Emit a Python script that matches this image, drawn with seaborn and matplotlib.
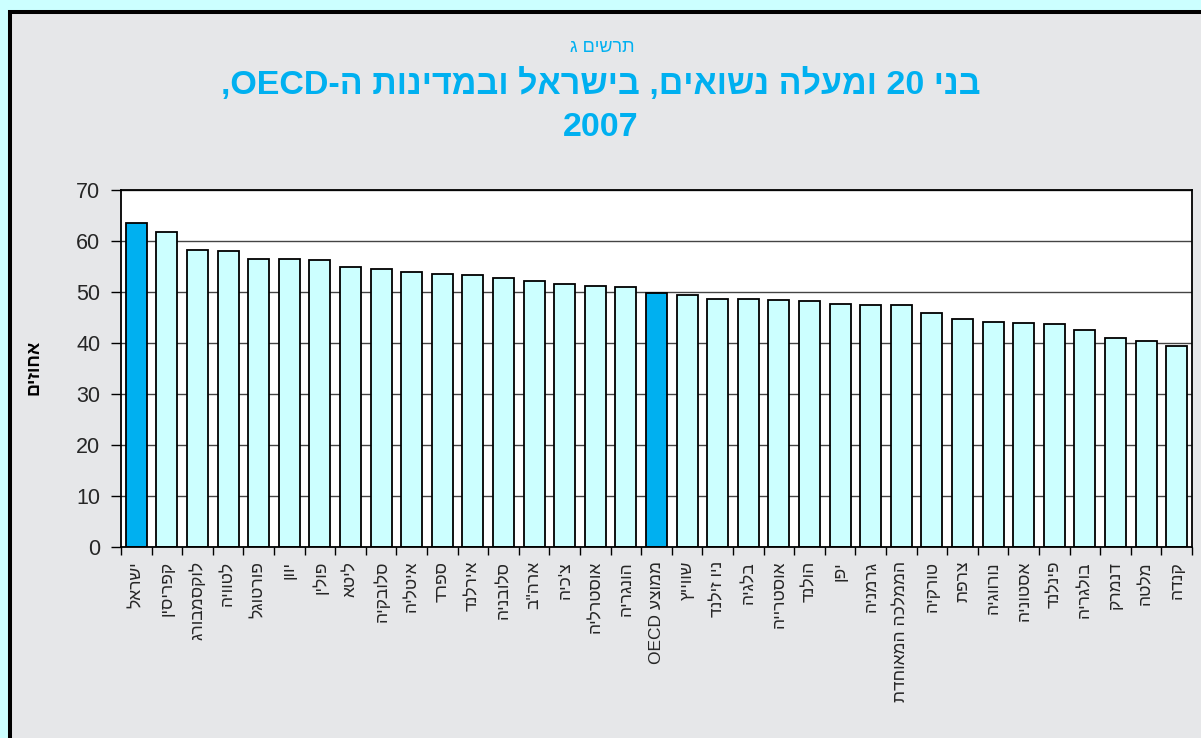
import re
import numpy as np
import pandas as pd
import matplotlib
matplotlib.use("Agg")
import matplotlib.pyplot as plt
from matplotlib.patches import Rectangle
import seaborn as sns

# ---------------- DATA ----------------

countries = [
    "ישראל", "קפריסין", "לוקסמבורג", "לטוויה", "פורטוגל", "יוון", "פולין",
    "ליטא", "סלובקיה", "איטליה", "ספרד", "אירלנד", "סלובניה", 'ארה"ב',
    "צ'כיה", "אוסטרליה", "הונגריה", "ממוצע OECD", "שווייץ", "ניו זילנד",
    "בלגיה", "אוסטרייה", "הולנד", "יפן", "גרמניה", "הממלכה המאוחדת",
    "טורקיה", "צרפת", "נורווגיה", "אסטוניה", "פינלנד", "בולגריה", "דנמרק",
    "מלטה", "קנדה",
]
married_pct = [
    63.6, 61.8, 58.2, 58.0, 56.5, 56.4, 56.3,
    55.0, 54.5, 53.9, 53.5, 53.4, 52.7, 52.2,
    51.6, 51.2, 50.9, 49.9, 49.4, 48.7,
    48.6, 48.4, 48.2, 47.6, 47.5, 47.4,
    45.8, 44.7, 44.2, 44.0, 43.7, 42.5, 40.9,
    40.3, 39.4,
]
highlight = ["ישראל", "ממוצע OECD"]
y_ticks = [0, 10, 20, 30, 40, 50, 60, 70]

chart_no = "תרשים ג"
title_line1 = "בני 20 ומעלה נשואים, בישראל ובמדינות ה-OECD,"
title_line2 = "2007"
y_title = "אחוזים"


# matplotlib has no bidi support: put the RTL text in visual order
def vis(s):
    return "".join(re.findall(r"[A-Za-z0-9]+|.", s)[::-1])


# ---------------- STYLE ----------------

sns.set_style("white")
plt.rcParams["font.family"] = ["Liberation Sans", "DejaVu Sans"]

LIGHT = "#CCFFFF"
DARK = "#00B0F0"
GRAY_BG = "#E6E7E9"

df = pd.DataFrame({"label": [vis(c) for c in countries], "value": married_pct})
palette = {vis(c): (DARK if c in highlight else LIGHT) for c in countries}

# ---------------- FIGURE ----------------

fig = plt.figure(figsize=(12.01, 7.38), dpi=100)
fig.patch.set_facecolor(LIGHT)
fig.add_artist(Rectangle((10 / 1201, -0.1), 1.2, 1.1 - 12 / 738,
                         transform=fig.transFigure, facecolor=GRAY_BG,
                         edgecolor="black", lw=2.9, zorder=-1))

ax = fig.add_axes([121 / 1201, 1 - 547 / 738, 1071 / 1201, 357 / 738])
ax.set_facecolor("white")

sns.barplot(data=df, x="label", y="value", hue="label", palette=palette,
            legend=False, width=0.68, saturation=1, edgecolor="black",
            linewidth=1.3, ax=ax)

n = len(countries)
ax.set_xlim(-0.5, n - 0.5)
ax.set_ylim(0, 70)
ax.set_yticks(y_ticks)
ax.yaxis.grid(True, color="#444444", lw=1)
ax.set_axisbelow(True)

ax.set_xticks(range(n))
ax.set_xticklabels(df["label"], rotation=90, fontsize=12.5)
ax.set_xticks(np.arange(-0.5, n), minor=True)
ax.tick_params(axis="x", which="major", length=0, pad=10)
ax.tick_params(axis="x", which="minor", length=6, width=1, color="black",
               direction="out", bottom=True)
ax.tick_params(axis="y", length=7, width=1, color="black", direction="out",
               left=True, pad=8, labelsize=15.5)
ax.set_xlabel("")
ax.set_ylabel("")
for sp in ax.spines.values():
    sp.set_color("black")
    sp.set_linewidth(1.3)

# ---------------- TEXTS ----------------

fig.text(602 / 1201, 1 - 47 / 738, vis(chart_no), ha="center", va="center",
         fontsize=13, color=DARK)
fig.text(601 / 1201, 1 - 85 / 738, vis(title_line1), ha="center",
         va="center", fontsize=24.5, fontweight="bold", color=DARK)
fig.text(601 / 1201, 1 - 127 / 738, title_line2, ha="center", va="center",
         fontsize=24.5, fontweight="bold", color=DARK)
fig.text(34 / 1201, 1 - 367 / 738, vis(y_title), ha="center", va="center",
         rotation=90, fontsize=13, fontweight="bold", color="black")

fig.savefig("out.png", dpi=100, facecolor=fig.get_facecolor())
